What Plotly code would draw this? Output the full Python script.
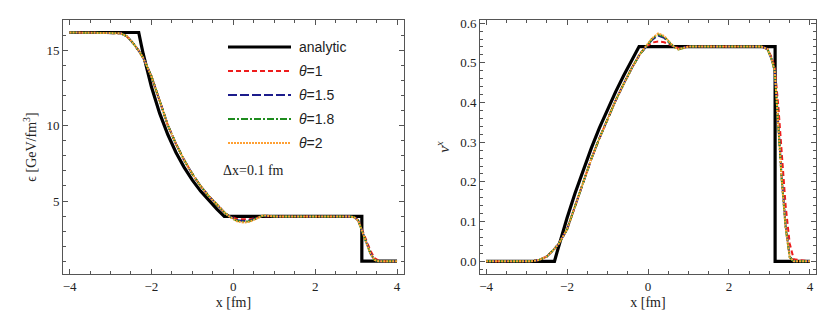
import plotly.graph_objects as go
from plotly.subplots import make_subplots

# ---------------- data ----------------
# analytic solution
x_analytic = [-4.0, -2.31, -2.25, -2.2, -2.0, -1.8, -1.6, -1.4, -1.2, -1.0, -0.8, -0.6, -0.4, -0.22, 3.14, 3.14, 4.0]
eps_analytic = [16.2, 16.2, 15.4, 14.77, 12.59, 10.84, 9.42, 8.23, 7.24, 6.39, 5.66, 5.02, 4.46, 3.98, 3.98, 1.0, 1.0]
v_analytic = [0.0, 0.0, 0.022, 0.040, 0.109, 0.172, 0.231, 0.285, 0.336, 0.383, 0.427, 0.468, 0.507, 0.541, 0.541, 0.0, 0.0]

# numerical energy density
x_eps = [-4.0, -2.9, -2.75, -2.6, -2.45, -2.3, -2.2, -2.0, -1.8, -1.6, -1.4, -1.2, -1.0, -0.8, -0.6, -0.4,
         -0.2, -0.1, 0.0, 0.1, 0.25, 0.4, 0.55, 0.7, 0.8, 0.95, 2.85, 2.95, 3.05, 3.15, 3.25, 3.35, 3.45, 3.55, 3.65, 4.0]
eps_t1 = [16.2, 16.2, 16.15, 15.95, 15.5, 14.95, 14.5, 13.3, 11.6, 10.05, 8.8, 7.72, 6.8, 6.0, 5.33, 4.73,
          4.2, 4.0, 3.88, 3.8, 3.79, 3.79, 3.86, 3.98, 4.0, 3.98, 3.97, 3.93, 3.75, 3.1, 2.4, 1.7, 1.2, 1.03, 1.0, 1.0]
eps_t15 = [16.2, 16.2, 16.15, 15.95, 15.5, 14.95, 14.5, 13.3, 11.6, 10.05, 8.8, 7.72, 6.8, 6.0, 5.33, 4.73,
           4.2, 3.99, 3.83, 3.72, 3.68, 3.71, 3.84, 4.0, 4.02, 3.98, 3.97, 3.94, 3.72, 3.02, 2.22, 1.52, 1.09, 1.0, 1.0, 1.0]
eps_t18 = [16.2, 16.2, 16.15, 15.95, 15.5, 14.95, 14.5, 13.3, 11.6, 10.05, 8.8, 7.72, 6.8, 6.0, 5.33, 4.73,
           4.2, 3.98, 3.8, 3.68, 3.62, 3.66, 3.82, 4.01, 4.03, 3.98, 3.97, 3.93, 3.71, 3.0, 2.2, 1.5, 1.08, 1.0, 1.0, 1.0]
eps_t2 = [16.2, 16.2, 16.15, 15.95, 15.5, 14.95, 14.5, 13.3, 11.6, 10.05, 8.8, 7.72, 6.8, 6.0, 5.33, 4.73,
          4.2, 3.98, 3.78, 3.64, 3.57, 3.62, 3.8, 4.02, 4.04, 3.98, 3.97, 3.93, 3.7, 3.0, 2.2, 1.5, 1.08, 1.0, 1.0, 1.0]

# numerical velocity
x_v = [-4.0, -2.9, -2.7, -2.5, -2.35, -2.2, -2.0, -1.8, -1.6, -1.4, -1.2, -1.0, -0.8, -0.6, -0.4, -0.2,
       -0.05, 0.1, 0.25, 0.4, 0.55, 0.65, 0.75, 0.85, 1.0, 2.8, 2.95, 3.05, 3.13, 3.22, 3.3, 3.4, 3.5, 3.6, 4.0]
v_t1 = [0.0, 0.0, 0.003, 0.012, 0.027, 0.045, 0.08, 0.14, 0.20, 0.258, 0.31, 0.359, 0.405, 0.447, 0.487, 0.522,
        0.541, 0.551, 0.554, 0.552, 0.545, 0.54, 0.537, 0.538, 0.541, 0.541, 0.535, 0.515, 0.49, 0.39, 0.27, 0.14, 0.045, 0.005, 0.0]
v_t15 = [0.0, 0.0, 0.003, 0.012, 0.027, 0.045, 0.08, 0.14, 0.20, 0.258, 0.31, 0.359, 0.405, 0.447, 0.487, 0.522,
         0.541, 0.558, 0.569, 0.563, 0.548, 0.54, 0.535, 0.537, 0.541, 0.541, 0.535, 0.51, 0.48, 0.345, 0.215, 0.09, 0.012, 0.0, 0.0]
v_t18 = [0.0, 0.0, 0.003, 0.012, 0.027, 0.045, 0.08, 0.14, 0.20, 0.258, 0.31, 0.359, 0.405, 0.447, 0.487, 0.522,
         0.541, 0.56, 0.572, 0.566, 0.549, 0.54, 0.534, 0.537, 0.541, 0.541, 0.535, 0.51, 0.48, 0.34, 0.21, 0.085, 0.01, 0.0, 0.0]
v_t2 = [0.0, 0.0, 0.003, 0.012, 0.027, 0.045, 0.08, 0.14, 0.20, 0.258, 0.31, 0.359, 0.405, 0.447, 0.487, 0.522,
        0.541, 0.562, 0.574, 0.568, 0.55, 0.54, 0.534, 0.537, 0.541, 0.541, 0.535, 0.51, 0.48, 0.34, 0.21, 0.085, 0.01, 0.0, 0.0]

legend_names = ["analytic", "<i>θ</i>=1", "<i>θ</i>=1.5", "<i>θ</i>=1.8", "<i>θ</i>=2"]
series_names = legend_names[1:]
series_colors = ["#ee1c1c", "#1c1c8c", "#1e8c1e", "#ffa033"]
series_dash = ["5px,3px", "9px,3px", "7px,2px,2px,2px", "2px,1px"]
eps_series = [eps_t1, eps_t15, eps_t18, eps_t2]
v_series = [v_t1, v_t15, v_t18, v_t2]

W, H = 830, 312
M_T, M_B = 12, 46
SERIF = "Liberation Serif, Times New Roman, serif"
SANS = "Liberation Sans, Arial, sans-serif"
TXT = "#222222"


def py(pix):
    # pixel row from top of the figure -> paper y (paper spans the area inside margins)
    return (H - M_B - pix) / (H - M_T - M_B)


fig = make_subplots(rows=1, cols=2)

fig.add_trace(go.Scatter(x=x_analytic, y=eps_analytic, mode="lines", name="analytic",
                         line=dict(color="black", width=3.2)), row=1, col=1)
fig.add_trace(go.Scatter(x=x_analytic, y=v_analytic, mode="lines", name="analytic",
                         line=dict(color="black", width=3.2)), row=1, col=2)
for i in range(4):
    fig.add_trace(go.Scatter(x=x_eps, y=eps_series[i], mode="lines", name=series_names[i],
                             line=dict(color=series_colors[i], width=2, dash=series_dash[i])), row=1, col=1)
    fig.add_trace(go.Scatter(x=x_v, y=v_series[i], mode="lines", name=series_names[i],
                             line=dict(color=series_colors[i], width=2, dash=series_dash[i])), row=1, col=2)

frame = "#555555"
common = dict(showline=True, linecolor=frame, linewidth=1, mirror="ticks", ticks="inside",
              tickcolor=frame, ticklen=5, showgrid=False, zeroline=False,
              tickfont=dict(family=SERIF, size=13, color=TXT))

fig.update_xaxes(common)
fig.update_yaxes(common)

fig.update_xaxes(domain=[55 / W, 396 / W], range=[-4.16, 4.17], dtick=2, tick0=0,
                 minor=dict(dtick=0.5, ticklen=3, ticks="inside", tickcolor=frame, showgrid=False),
                 title=dict(text="x [fm]", font=dict(family=SERIF, size=14, color=TXT), standoff=4),
                 row=1, col=1)
fig.update_xaxes(domain=[472 / W, 808 / W], range=[-4.15, 4.15], dtick=2, tick0=0,
                 minor=dict(dtick=0.5, ticklen=3, ticks="inside", tickcolor=frame, showgrid=False),
                 title=dict(text="x [fm]", font=dict(family=SERIF, size=14, color=TXT), standoff=4),
                 row=1, col=2)
fig.update_yaxes(range=[0.15, 17.03], dtick=5, tick0=0,
                 minor=dict(dtick=1, ticklen=3, ticks="inside", tickcolor=frame, showgrid=False),
                 title=dict(text="ϵ [GeV/fm<sup>3</sup>]", font=dict(family=SERIF, size=14, color=TXT), standoff=6),
                 row=1, col=1)
fig.update_yaxes(range=[-0.032, 0.608], dtick=0.1, tick0=0, tickformat=".1f",
                 minor=dict(dtick=0.02, ticklen=3, ticks="inside", tickcolor=frame, showgrid=False),
                 title=dict(text="<i>v</i><sup><i>x</i></sup>", font=dict(family=SERIF, size=15, color=TXT), standoff=6),
                 row=1, col=2)

# legend drawn inside the left panel (sample lines + labels)
legend_rows = [39, 63, 87, 111, 135]
legend_colors = ["black"] + series_colors
legend_dash = ["solid"] + series_dash
legend_widths = [3.2, 2, 2, 2, 2]
for k in range(5):
    yp = py(legend_rows[k])
    fig.add_shape(type="line", xref="paper", yref="paper", x0=220 / W, x1=283 / W, y0=yp, y1=yp,
                  line=dict(color=legend_colors[k], width=legend_widths[k], dash=legend_dash[k]))
    fig.add_annotation(x=289 / W, y=yp, xref="paper", yref="paper", xanchor="left", yanchor="middle",
                       text=legend_names[k], showarrow=False, font=dict(family=SANS, size=14, color=TXT))

fig.add_annotation(x=213 / W, y=py(162), xref="paper", yref="paper", xanchor="left", yanchor="middle",
                   text="Δx=0.1 fm", showarrow=False, font=dict(family=SERIF, size=14, color=TXT))

fig.update_layout(
    width=W, height=H,
    margin=dict(l=0, r=0, t=M_T, b=M_B, autoexpand=False),
    paper_bgcolor="white", plot_bgcolor="white",
    showlegend=False,
)

fig.write_html("out.html")
